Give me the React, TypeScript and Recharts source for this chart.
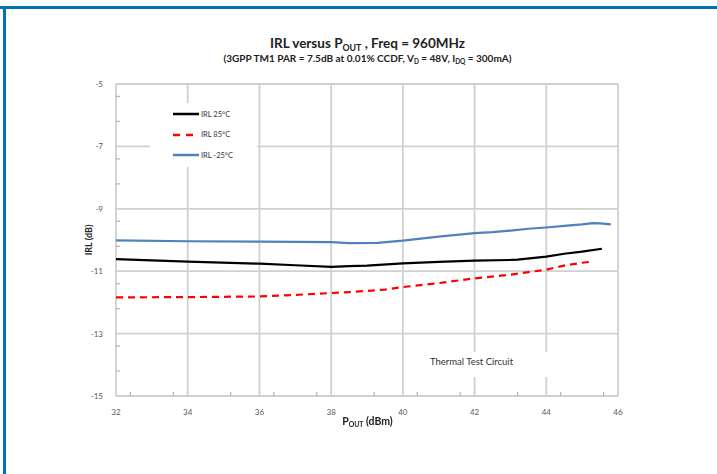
import React from 'react'
import { LineChart, Line, XAxis, YAxis, CartesianGrid } from 'recharts'

// P_OUT (dBm) / IRL (dB)
const pout25 = [32, 34, 36, 37, 38, 38.5, 39, 40, 41, 42, 43, 43.2, 44, 44.5, 45, 45.55]
const irl25 = [-10.61, -10.69, -10.76, -10.81, -10.86, -10.84, -10.82, -10.75, -10.7, -10.66, -10.64, -10.63, -10.53, -10.44, -10.37, -10.28]

const pout85 = [32, 34, 36, 37, 38, 38.5, 39.5, 40, 41, 42, 43, 43.5, 44, 44.5, 45, 45.3]
const irl85 = [-11.84, -11.83, -11.81, -11.76, -11.7, -11.67, -11.59, -11.51, -11.38, -11.23, -11.11, -11.03, -10.95, -10.82, -10.73, -10.69]

const poutM25 = [32, 34, 36, 38, 38.5, 39.3, 40, 41, 42, 42.5, 43, 43.5, 44, 44.5, 45, 45.3, 45.5, 45.8]
const irlM25 = [-10.01, -10.04, -10.05, -10.07, -10.1, -10.09, -10.02, -9.89, -9.78, -9.75, -9.7, -9.64, -9.6, -9.55, -9.5, -9.46, -9.47, -9.5]

const xTicks = [32, 34, 36, 38, 40, 42, 44, 46]
const yTicks = [-15, -13, -11, -9, -7, -5]

const seriesNames = ['IRL 25°C', 'IRL 85°C', 'IRL -25°C']
const seriesColors = ['#000000', '#ff0000', '#4f81bd']

const toPoints = (xs: number[], ys: number[]) => xs.map((x, i) => ({ x, y: ys[i] }))
const minorOf = (ticks: number[], n: number) => {
  const out: number[] = []
  for (let i = 0; i < ticks.length - 1; i++) {
    const step = (ticks[i + 1] - ticks[i]) / n
    for (let k = 1; k < n; k++) out.push(+(ticks[i] + k * step).toFixed(2))
  }
  return out
}

const FONT = 'Lato, "Open Sans", sans-serif'
const GRID = '#d0d0d0'
const TXT = '#595959'

function XTick({ x, y, payload }: any) {
  return (
    <text x={x} y={y + 11} textAnchor="middle" fontSize={8} fill={TXT} fontFamily={FONT}>
      {payload.value}
    </text>
  )
}

function YTick({ x, y, payload }: any) {
  return (
    <text x={x - 5} y={y + 3} textAnchor="end" fontSize={8} fill={TXT} fontFamily={FONT}>
      {payload.value}
    </text>
  )
}

const NoLabel = () => <g />

function LegendBox() {
  return (
    <div
      style={{
        position: 'absolute',
        left: 150,
        top: 103,
        width: 107,
        height: 64,
        background: '#fff',
        fontFamily: FONT,
        fontSize: 7.5,
        color: '#333',
      }}
    >
      {seriesNames.map((name, i) => (
        <div
          key={name}
          style={{ position: 'absolute', left: 23, top: 5 + i * 20.5, height: 12, display: 'flex', alignItems: 'center' }}
        >
          <svg width={26} height={6}>
            <line
              x1={0}
              x2={26}
              y1={3}
              y2={3}
              stroke={seriesColors[i]}
              strokeWidth={2.5}
              strokeDasharray={i === 1 ? '7 6' : undefined}
            />
          </svg>
          <span style={{ marginLeft: 2, whiteSpace: 'nowrap' }}>{name}</span>
        </div>
      ))}
    </div>
  )
}

export default function App() {
  const sub = { fontSize: '0.65em', verticalAlign: '-0.3em' }
  return (
    <div style={{ position: 'fixed', left: 0, top: 0, width: 717, height: 474, background: '#fff', fontFamily: FONT }}>
      <div style={{ position: 'absolute', left: 0, top: 6, width: 717, height: 3, background: '#0071b3' }} />
      <div style={{ position: 'absolute', left: 3, top: 6, width: 3, height: 468, background: '#0071b3' }} />

      <div style={{ position: 'absolute', left: 0, width: 735, top: 35, textAlign: 'center', fontWeight: 700, fontSize: 13.5, color: '#222' }}>
        IRL versus P<span style={sub}>OUT</span> , Freq = 960MHz
      </div>
      <div style={{ position: 'absolute', left: 0, width: 735, top: 52, textAlign: 'center', fontWeight: 700, fontSize: 10, color: '#222' }}>
        (3GPP TM1 PAR = 7.5dB at 0.01% CCDF, V<span style={sub}>D</span> = 48V, I<span style={sub}>DQ</span> = 300mA)
      </div>

      <LineChart width={717} height={474} margin={{ top: 84, right: 99, bottom: 49, left: 76 }}>
        <CartesianGrid stroke={GRID} strokeWidth={1.8} />
        <XAxis
          xAxisId="minor"
          type="number"
          dataKey="x"
          domain={[32, 46]}
          ticks={minorOf(xTicks, 5)}
          height={1}
          mirror
          tick={NoLabel}
          tickSize={4}
          tickLine={{ stroke: '#b8b8b8', strokeWidth: 1.3 }}
          axisLine={false}
          allowDataOverflow
        />
        <XAxis
          type="number"
          dataKey="x"
          domain={[32, 46]}
          ticks={xTicks}
          height={29}
          tick={<XTick />}
          tickLine={false}
          axisLine={false}
          allowDataOverflow
        />
        <YAxis
          yAxisId="minor"
          type="number"
          domain={[-15, -5]}
          ticks={minorOf(yTicks, 5)}
          width={1}
          mirror
          tick={NoLabel}
          tickSize={4}
          tickLine={{ stroke: '#b8b8b8', strokeWidth: 1.3 }}
          axisLine={false}
          allowDataOverflow
        />
        <YAxis
          type="number"
          domain={[-15, -5]}
          ticks={yTicks}
          width={40}
          tick={<YTick />}
          tickLine={false}
          axisLine={false}
          allowDataOverflow
        />
        <Line data={toPoints(poutM25, irlM25)} dataKey="y" stroke={seriesColors[2]} strokeWidth={2.2} dot={false} isAnimationActive={false} />
        <Line data={toPoints(pout25, irl25)} dataKey="y" stroke={seriesColors[0]} strokeWidth={2.2} dot={false} isAnimationActive={false} />
        <Line data={toPoints(pout85, irl85)} dataKey="y" stroke={seriesColors[1]} strokeWidth={2.2} strokeDasharray="7 5" dot={false} isAnimationActive={false} />
      </LineChart>

      <LegendBox />
      <div
        style={{
          position: 'absolute',
          left: 405,
          top: 352,
          width: 185,
          height: 25,
          background: '#fff',
          fontSize: 9.5,
          color: '#333',
          lineHeight: '20px',
          paddingLeft: 25,
          boxSizing: 'border-box',
          whiteSpace: 'nowrap',
        }}
      >
        Thermal Test Circuit
      </div>

      <div
        style={{
          position: 'absolute',
          left: 88,
          top: 240,
          transform: 'translate(-50%, -50%) rotate(-90deg)',
          fontSize: 9,
          fontWeight: 700,
          color: '#222',
          whiteSpace: 'nowrap',
        }}
      >
        IRL (dB)
      </div>
      <div style={{ position: 'absolute', left: 0, width: 735, top: 415, textAlign: 'center', fontWeight: 700, fontSize: 10.5, color: '#222' }}>
        P<span style={sub}>OUT</span> (dBm)
      </div>
    </div>
  )
}
